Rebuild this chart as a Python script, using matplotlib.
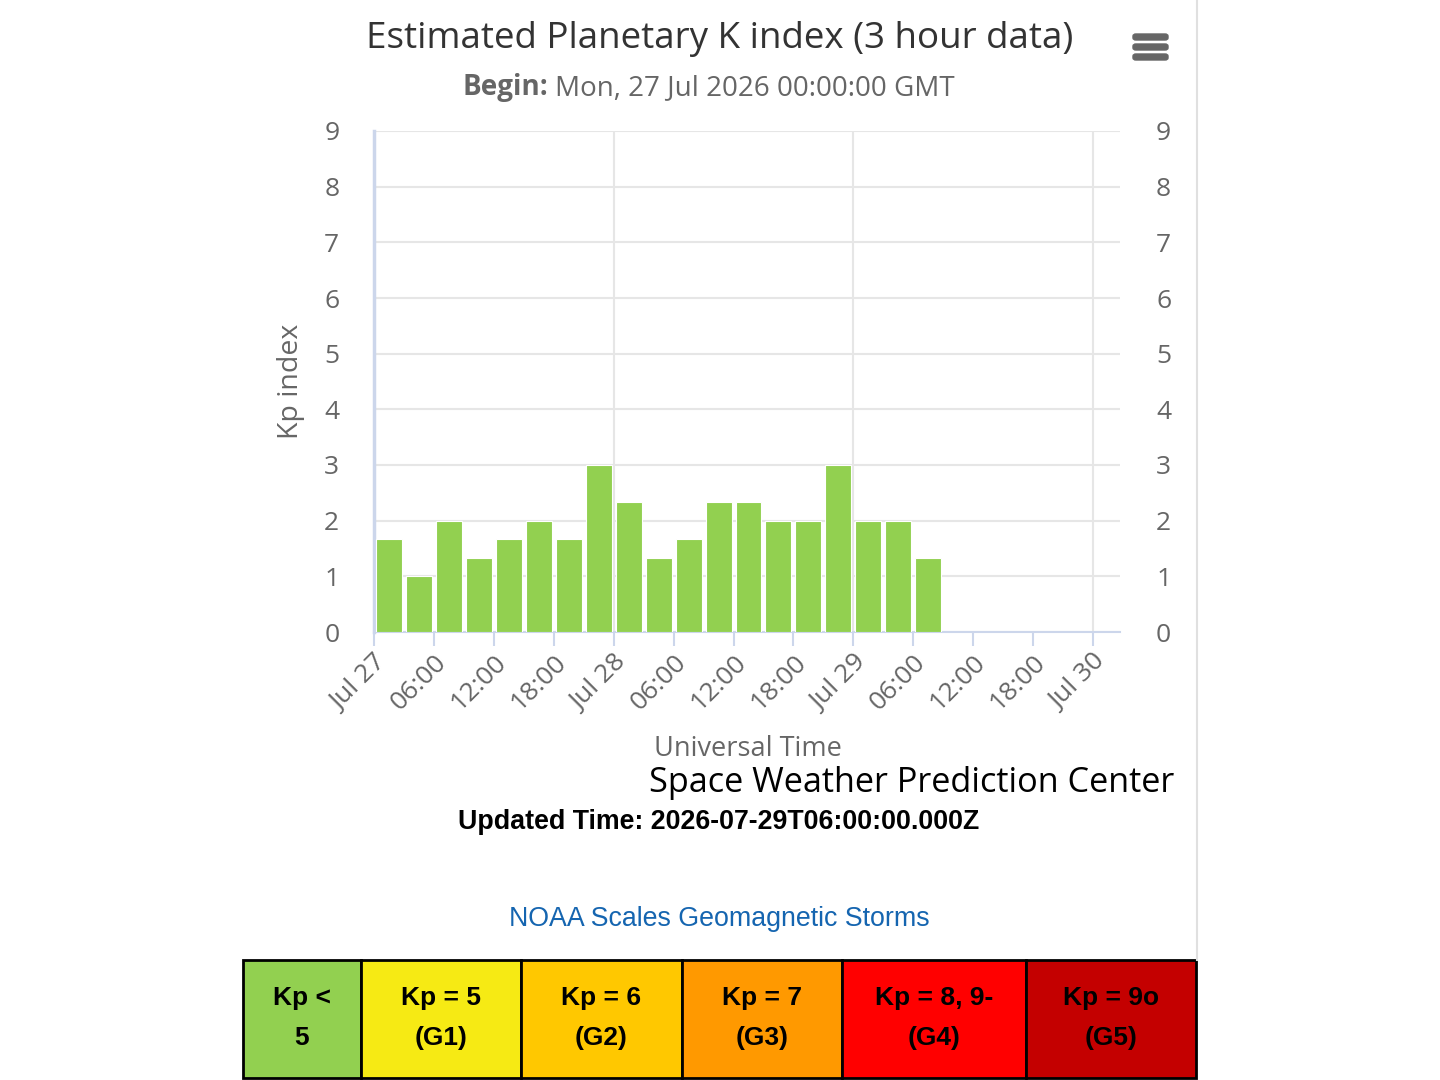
import matplotlib.pyplot as plt
from matplotlib.patches import Rectangle, FancyBboxPatch

# 3-hour Kp values, start hour offset from Jul 27 00:00 UT
start_hours = [0, 3, 6, 9, 12, 15, 18, 21, 24, 27, 30, 33, 36, 39, 42, 45, 48, 51, 54]
kp_values = [1.67, 1.0, 2.0, 1.33, 1.67, 2.0, 1.67, 3.0, 2.33, 1.33,
             1.67, 2.33, 2.33, 2.0, 2.0, 3.0, 2.0, 2.0, 1.33]
tick_hours = [0, 6, 12, 18, 24, 30, 36, 42, 48, 54, 60, 66, 72]
tick_labels = ["Jul 27", "06:00", "12:00", "18:00", "Jul 28", "06:00", "12:00",
               "18:00", "Jul 29", "06:00", "12:00", "18:00", "Jul 30"]
scale_labels = ["Kp <\n5", "Kp = 5\n(G1)", "Kp = 6\n(G2)", "Kp = 7\n(G3)",
                "Kp = 8, 9-\n(G4)", "Kp = 9o\n(G5)"]
scale_colors = ["#92d050", "#f6ea14", "#ffc800", "#ff9900", "#ff0000", "#c40000"]
scale_widths = [118, 160, 161, 160, 184, 170]

plt.rcParams['font.family'] = ['Open Sans', 'DejaVu Sans']
GRAY = "#666666"

fig = plt.figure(figsize=(14.4, 10.8), dpi=100)
W, H = 1440, 1080

ax = fig.add_axes([374 / W, 1 - 632 / H, (1120 - 374) / W, (632 - 131) / H])
ax.bar([h + 1.5 for h in start_hours], kp_values, width=2.6, color="#92d050",
       edgecolor="white", linewidth=0.8, zorder=3)
ax.set_xlim(0, 74.7)
ax.set_ylim(0, 9)
ax.set_yticks(range(10))
ax.set_xticks(tick_hours)
ax.set_xticklabels(tick_labels, rotation=45, ha="right", va="top",
                   rotation_mode="anchor", fontsize=19, color=GRAY)
ax.tick_params(axis="x", length=10, width=1.5, color="#ccd6eb", pad=3)
ax.tick_params(axis="y", length=0, labelsize=19, labelcolor=GRAY, pad=25)
ax.grid(axis="y", color="#e6e6e6", linewidth=1.5, zorder=0)
for d in [24, 48, 72]:
    ax.axvline(d, color="#e6e6e6", linewidth=1.5, zorder=0)
for s in ["top", "right"]:
    ax.spines[s].set_visible(False)
ax.spines["left"].set_color("#ccd6eb")
ax.spines["left"].set_linewidth(2.5)
ax.spines["bottom"].set_color("#ccd6eb")
ax.spines["bottom"].set_linewidth(1.5)
ax.set_ylabel("Kp index", fontsize=20.5, color=GRAY, labelpad=14)

# right-side labels
ax2 = ax.twinx()
ax2.set_ylim(0, 9)
ax2.set_yticks(range(10))
ax2.tick_params(axis="y", length=0, labelsize=19, labelcolor=GRAY, pad=26)
for s in ax2.spines.values():
    s.set_visible(False)

# titles and texts
fig.text(720 / W, 1 - 39 / H, "Estimated Planetary K index (3 hour data)",
         ha="center", va="center", fontsize=26.5, color="#333333")
fig.text(548 / W, 1 - 88 / H, "Begin:", ha="right", va="center", fontsize=20,
         color=GRAY, fontweight="bold")
fig.text(555 / W, 1 - 88 / H, "Mon, 27 Jul 2026 00:00:00 GMT", ha="left",
         va="center", fontsize=20, color=GRAY)
fig.text(748 / W, 1 - 749 / H, "Universal Time", ha="center", va="center",
         fontsize=19.5, color=GRAY)
fig.text(912 / W, 1 - 783 / H, "Space Weather Prediction Center", ha="center",
         va="center", fontsize=24.7, color="black")
fig.text(719 / W, 1 - 822 / H, "Updated Time: 2026-07-29T06:00:00.000Z",
         ha="center", va="center", fontsize=19.3, fontweight="bold",
         family="Liberation Sans", color="black")
fig.text(719 / W, 1 - 919 / H, "NOAA Scales Geomagnetic Storms", ha="center",
         va="center", fontsize=19.3, family="Liberation Sans", color="#1565b0")

# page border line at right
fig.add_artist(plt.Line2D([1197 / W, 1197 / W], [1 - 960 / H, 1.0],
                          color="#e0e0e0", linewidth=1.5))

# menu icon
for yy in [37, 47, 57]:
    fig.add_artist(FancyBboxPatch((1133 / W, 1 - (yy + 3) / H), 35 / W, 6 / H,
                                  boxstyle="round,pad=0,rounding_size=0.002",
                                  color="#666666", transform=fig.transFigure))

# storm scale table
x0 = 243
for lab, col, w in zip(scale_labels, scale_colors, scale_widths):
    fig.add_artist(Rectangle((x0 / W, 1 - 1078 / H), w / W, 118 / H,
                             facecolor=col, edgecolor="black", linewidth=2,
                             transform=fig.transFigure))
    fig.text((x0 + w / 2) / W, 1 - 1018 / H, lab, ha="center", va="center",
             fontsize=19, fontweight="bold", family="Liberation Sans",
             linespacing=1.8, color="black")
    x0 += w

fig.savefig("out.png", dpi=100)
